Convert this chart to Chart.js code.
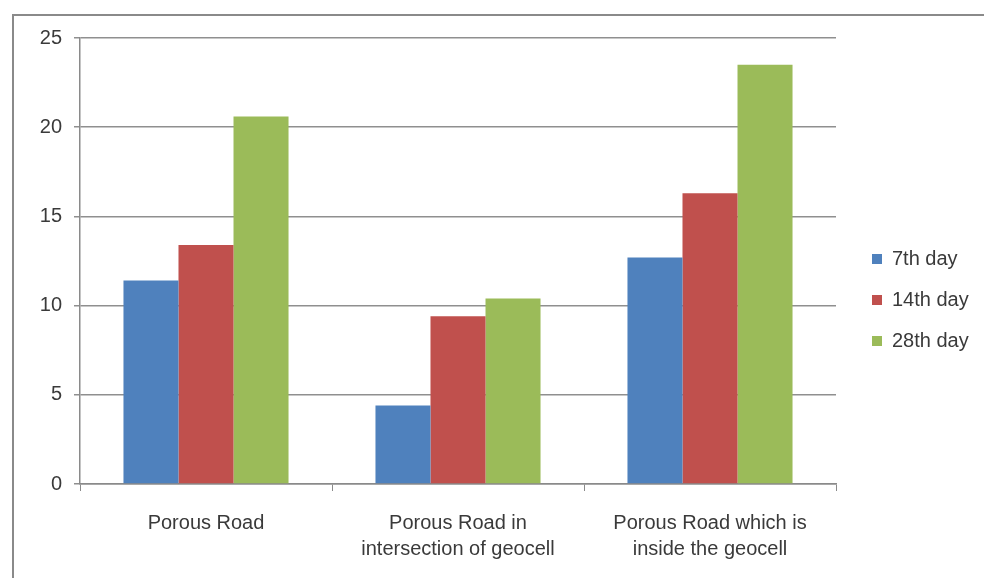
<!DOCTYPE html>
<html>
<head>
<meta charset="utf-8">
<script src="https://cdn.jsdelivr.net/npm/chart.js@4.4.1/dist/chart.umd.min.js"></script>
<style>
  html, body { margin: 0; padding: 0; background: #fff; }
  #wrap { position: relative; width: 984px; height: 578px; overflow: hidden; }
  #frame {
    position: absolute; left: 12px; top: 14px; width: 1000px; height: 600px;
    border-left: 2px solid #8a8a8a; border-top: 2px solid #8a8a8a;
  }
  #chart { position: absolute; left: 0; top: 0; }
</style>
</head>
<body>
<div id="wrap">
  <div id="frame"></div>
  <canvas id="chart" width="984" height="578"></canvas>
</div>
<script>
  // ===== DATA =====
  const categories = [
    'Porous Road',
    ['Porous Road in', 'intersection of geocell'],
    ['Porous Road which is', 'inside the geocell']
  ];
  const day7 = [11.4, 4.4, 12.7];
  const day14 = [13.4, 9.4, 16.3];
  const day28 = [20.6, 10.4, 23.5];
  const seriesLabels = ['7th day', '14th day', '28th day'];
  const yTicks = [0, 5, 10, 15, 20, 25];

  const textFont = { family: 'Liberation Sans', size: 20, lineHeight: 1.3 };

  // Put the legend where the reference has it (a bit right of the plot)
  const legendPlacer = {
    id: 'legendPlacer',
    beforeLayout(chart) {
      const lg = chart.legend;
      if (lg && !lg._patched) {
        const fit = lg.fit;
        lg.fit = function () { fit.call(this); this.width = 148; };
        lg._patched = true;
      }
    },
    afterLayout(chart) {
      const lg = chart.legend;
      if (!lg) return;
      lg.left += 15;
      lg.right += 15;
      lg.top = 228;
      lg.bottom = lg.top + 240;
    }
  };

  const ctx = document.getElementById('chart').getContext('2d');
  new Chart(ctx, {
    type: 'bar',
    data: {
      labels: categories,
      datasets: [
        { label: seriesLabels[0], data: day7, backgroundColor: '#4F81BD' },
        { label: seriesLabels[1], data: day14, backgroundColor: '#C0504D' },
        { label: seriesLabels[2], data: day28, backgroundColor: '#9BBB59' }
      ]
    },
    options: {
      responsive: false,
      animation: false,
      layout: { padding: { left: 0, top: 38, right: 0, bottom: 0 } },
      datasets: {
        bar: { categoryPercentage: 0.655, barPercentage: 1.0 }
      },
      scales: {
        x: {
          grid: {
            offset: true,
            drawOnChartArea: false,
            drawTicks: true,
            tickLength: 7,
            color: '#8a8a8a'
          },
          border: { display: true, color: '#8a8a8a', width: 1.5 },
          ticks: {
            color: '#3a3a3a',
            font: textFont,
            padding: 19,
            maxRotation: 0,
            autoSkip: false
          },
          afterFit(scale) { scale.height = 94; }
        },
        y: {
          min: 0,
          max: 25,
          afterBuildTicks(scale) { scale.ticks = yTicks.map(v => ({ value: v })); },
          grid: {
            color: '#8f8f8f',
            lineWidth: 1.5,
            drawTicks: true,
            tickLength: 6
          },
          border: { display: true, color: '#8a8a8a', width: 1.5 },
          ticks: {
            color: '#3a3a3a',
            font: textFont,
            padding: 12
          },
          afterFit(scale) { scale.width = 80; }
        }
      },
      plugins: {
        legend: {
          display: true,
          position: 'right',
          align: 'start',
          labels: {
            boxWidth: 10,
            boxHeight: 10,
            padding: 21,
            color: '#3a3a3a',
            font: textFont
          }
        },
        tooltip: { enabled: false }
      }
    },
    plugins: [legendPlacer]
  });
</script>
</body>
</html>
